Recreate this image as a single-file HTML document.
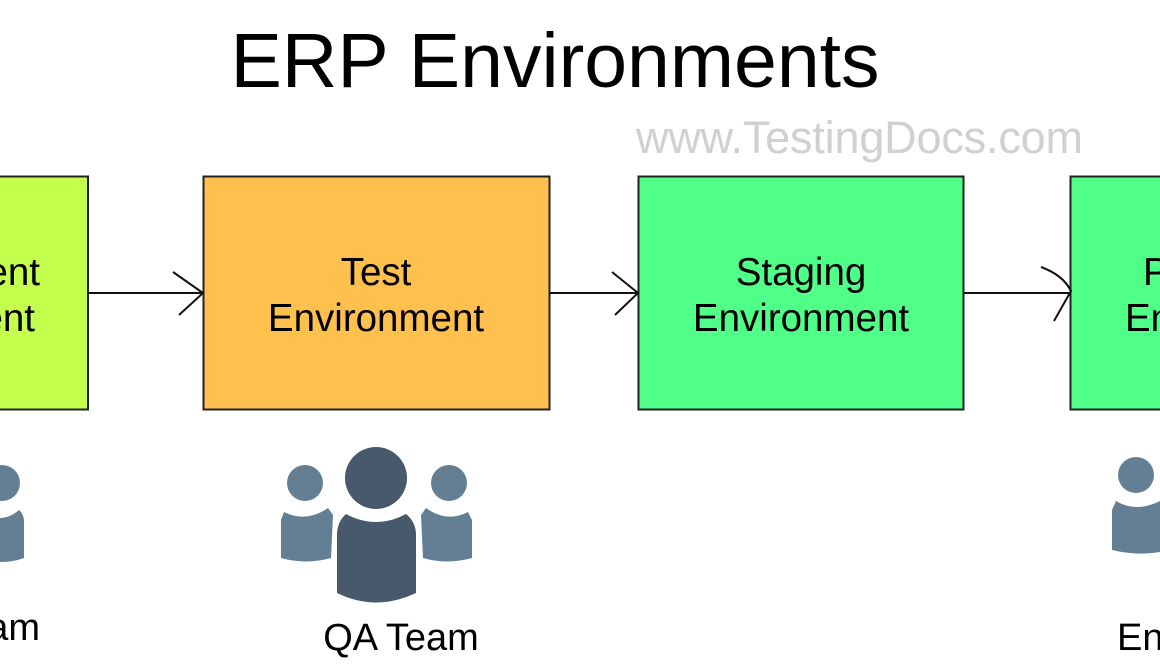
<!DOCTYPE html>
<html><head><meta charset="utf-8"><style>
html,body{margin:0;padding:0;background:#fff;width:1160px;height:665px;overflow:hidden}
svg{display:block}
text{font-family:"Liberation Sans",sans-serif}
</style></head><body>
<svg width="1160" height="665" viewBox="0 0 1160 665" xmlns="http://www.w3.org/2000/svg">
<text x="555" y="87" font-size="77" text-anchor="middle" fill="#000">ERP Environments</text>
<text x="636" y="153" font-size="45" fill="#d0d0d0" textLength="447">www.TestingDocs.com</text>

<rect x="-100" y="176.5" width="188" height="233" fill="#c4ff4d" stroke="#222" stroke-width="2"/>
<rect x="203.5" y="176.5" width="346" height="233" fill="#ffc04d" stroke="#222" stroke-width="2"/>
<rect x="638.5" y="176.5" width="325" height="233" fill="#50ff88" stroke="#222" stroke-width="2"/>
<rect x="1070.5" y="176.5" width="200" height="233" fill="#50ff88" stroke="#222" stroke-width="2"/>

<g font-size="38.5" fill="#000">
<text x="40" y="285" text-anchor="end">Development</text><text x="35" y="331" text-anchor="end">Environment</text>
<text x="376" y="285" text-anchor="middle">Test</text><text x="376" y="331" text-anchor="middle">Environment</text>
<text x="801" y="285" text-anchor="middle">Staging</text><text x="801" y="331" text-anchor="middle">Environment</text>
<text x="1143" y="285">Production</text><text x="1125" y="331">Environment</text>
</g>

<g stroke="#111" stroke-width="2" fill="none">
<line x1="88" y1="293" x2="203" y2="293"/><polyline points="173,272 203,293 179,315"/>
<line x1="550" y1="293" x2="638" y2="293"/><polyline points="612,272 638,293 615,315"/>
<line x1="964" y1="293" x2="1070" y2="293"/><path d="M1041,267 Q1063,275 1071,291 L1054,321"/>
</g>

<g fill="#647f94">
<circle cx="2" cy="483" r="18"/>
<path d="M-20,512 Q2,525 19,510 Q24,514 24,522 L24,558 Q2,566 -20,558 Z"/>
</g>
<g fill="#647f94">
<circle cx="305" cy="483" r="18"/>
<path d="M284,512 Q306,523 328,508 L333,515 L331,558 Q306,565 281,558 L281,520 Z"/>
<circle cx="449" cy="483" r="18"/>
<path d="M426,508 Q447,523 468,512 L472,520 L472,558 Q447,565 423,558 L421,515 Z"/>
</g>
<g fill="#47596b">
<circle cx="376" cy="478" r="31"/>
<path d="M346,514 Q376,530 406,514 Q416,522 416,535 L416,593 Q376,612 337,593 L337,535 Q337,522 346,514 Z"/>
</g>
<g fill="#647f94">
<circle cx="1136" cy="475" r="18"/>
<path d="M1116,501 Q1136,513 1160,501 L1160,552 Q1136,556 1112,550 L1112,510 Z"/>
</g>

<g font-size="38" fill="#000">
<text x="40" y="640" text-anchor="end">Dev Team</text>
<text x="401" y="650" text-anchor="middle">QA Team</text>
<text x="1117" y="650">End Users</text>
</g>
</svg>
</body></html>
